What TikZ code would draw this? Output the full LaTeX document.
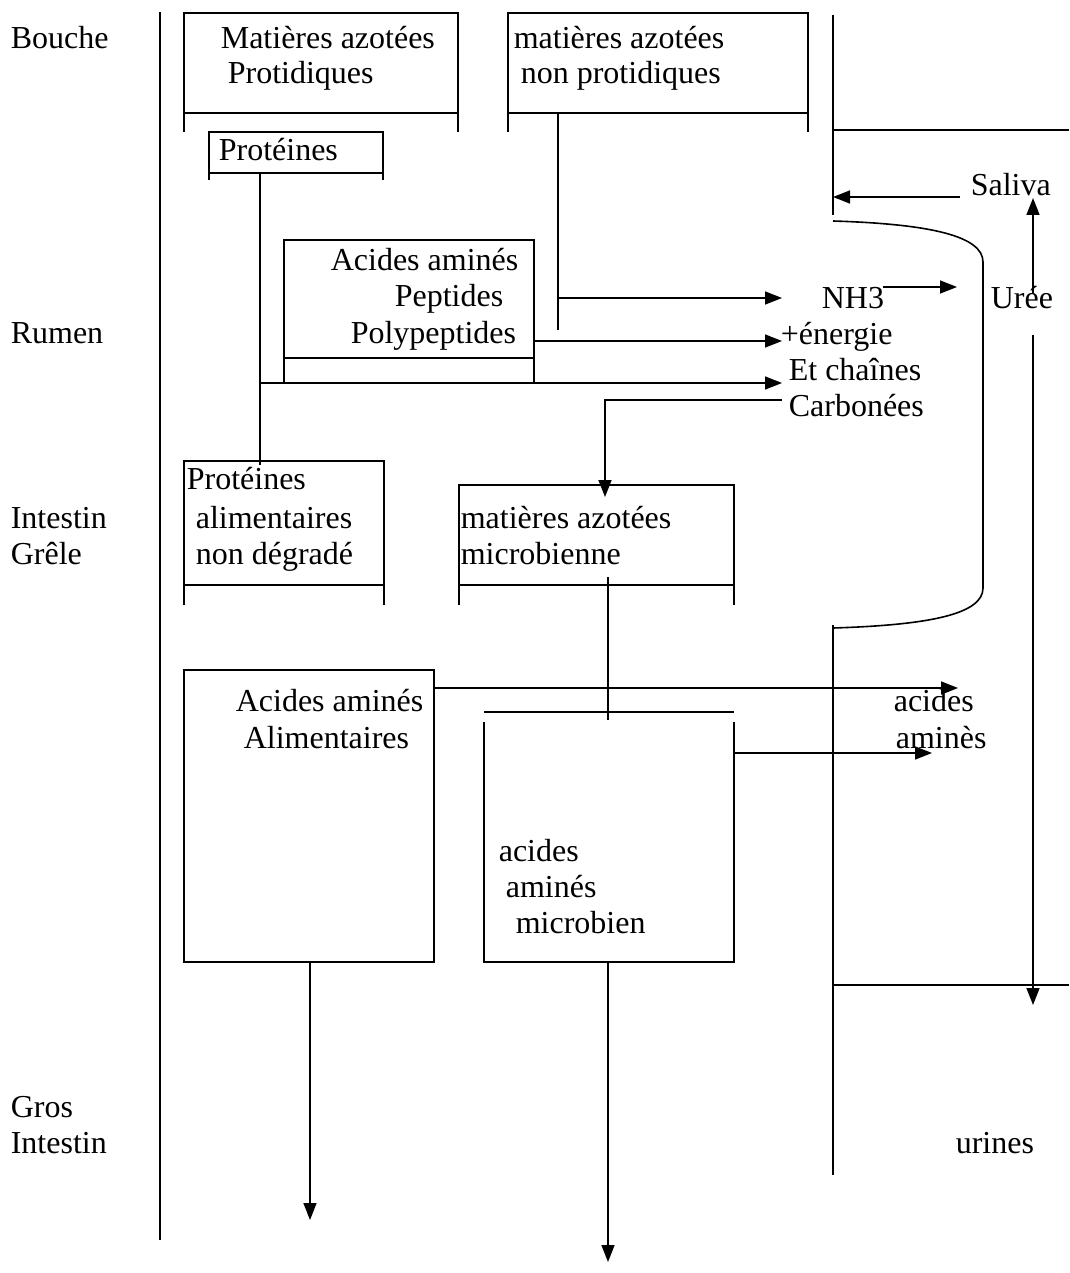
\documentclass[tikz,border=0pt]{standalone}
\usepackage{fontspec}
\setmainfont{Liberation Serif}
\usetikzlibrary{arrows.meta}
\begin{document}
\begin{tikzpicture}[x=1pt,y=-1pt,line width=1.6pt,
	lbl/.style={anchor=base west,inner sep=0pt,font=\fontsize{32}{36}\selectfont},
	fleche/.style={-{Triangle[length=17pt,width=13pt]}}]
	\useasboundingbox (0,0) rectangle (1069,1273);

	% organes
	\node[lbl] (bouche) at (10,49) {Bouche};
	\node[lbl] (rumen) at (10,343) {Rumen};
	\node[lbl] (intestin) at (10,528) {Intestin};
	\node[lbl] (grele) at (10,564) {Grêle};
	\node[lbl] (gros) at (10,1117) {Gros};
	\node[lbl] (grosint) at (10,1153) {Intestin};
	\coordinate (axeh) at (160,12);
	\coordinate (axeb) at (160,1240);
	\draw (axeh) -- (axeb);

	% bouche
	\draw (184,132) -- (184,13) -- (458,13) -- (458,132) (184,113) -- (458,113);
	\node[lbl] (protid1) at (220,49) {Matières azotées};
	\node[lbl] (protid2) at (227,84) {Protidiques};
	\draw (508,132) -- (508,13) -- (808,13) -- (808,132) (508,113) -- (808,113);
	\node[lbl] (nonprot1) at (513,49) {matières azotées};
	\node[lbl] (nonprot2) at (520,84) {non protidiques};
	\draw (209,180) -- (209,132) -- (383,132) -- (383,180) (209,173) -- (383,173);
	\node[lbl] (proteines) at (218,161) {Protéines};

	% rumen
	\draw (284,383) -- (284,240) -- (534,240) -- (534,383) (284,358) -- (534,358);
	\node[lbl] (aa1) at (330,270) {Acides aminés};
	\node[lbl] (aa2) at (394,306) {Peptides};
	\node[lbl] (aa3) at (350,343) {Polypeptides};
	\node[lbl] (nh3) at (821,308) {NH3};
	\node[lbl] (energie) at (780,344) {+énergie};
	\node[lbl] (chaines) at (788,380) {Et chaînes};
	\node[lbl] (carbonees) at (788,416) {Carbonées};
	\node[lbl] (uree) at (990,308) {Urée};
	\node[lbl] (saliva) at (970,196) {Saliva};

	\coordinate (prot) at (260,173);
	\coordinate (protb) at (260,465);
	\coordinate (prots) at (260,383);
	\coordinate (nonprot) at (558,113);
	\coordinate (nonprotb) at (558,330);
	\coordinate (nonprots) at (558,298);
	\coordinate (poly) at (534,341);
	\coordinate (nh3in) at (782,298);
	\coordinate (energiein) at (782,341);
	\coordinate (chainesin) at (782,383);
	\coordinate (carbo) at (782,400);
	\coordinate (carbocoin) at (605,400);
	\coordinate (microin) at (605,497);
	\draw (prot) -- (protb);
	\draw (nonprot) -- (nonprotb);
	\draw[fleche] (nonprots) -- (nh3in);
	\draw[fleche] (poly) -- (energiein);
	\draw[fleche] (prots) -- (chainesin);
	\draw[fleche] (carbo) -- (carbocoin) -- (microin);
	\coordinate (nh3out) at (883,287);
	\coordinate (ureein) at (957,287);
	\draw[fleche] (nh3out) -- (ureein);

	% paroi et salive
	\coordinate (paroih) at (833,15);
	\coordinate (paroim) at (833,215);
	\coordinate (salivag) at (833,197);
	\coordinate (salivad) at (960,197);
	\draw (paroih) -- (paroim);
	\draw (833,130) -- (1069,130);
	\draw[fleche] (salivad) -- (salivag);
	\draw (833,221) .. controls (930,224) and (983,236) .. (983,262) -- (983,588)
		.. controls (983,614) and (930,625) .. (833,628);
	\coordinate (ureeh) at (1033,293);
	\coordinate (ureesal) at (1033,198);
	\coordinate (ureeb) at (1033,335);
	\coordinate (urines) at (1033,1005);
	\draw[fleche] (ureeh) -- (ureesal);
	\draw[fleche] (ureeb) -- (urines);
	\draw (833,625) -- (833,1175);
	\draw (833,985) -- (1069,985);
	\node[lbl] (urinestxt) at (955,1153) {urines};

	% intestin grele
	\draw (184,605) -- (184,461) -- (384,461) -- (384,605) (184,585) -- (384,585);
	\node[lbl] (nondeg1) at (186,489) {Protéines};
	\node[lbl] (nondeg2) at (195,528) {alimentaires};
	\node[lbl] (nondeg3) at (195,564) {non dégradé};
	\draw (459,605) -- (459,485) -- (734,485) -- (734,605) (459,585) -- (734,585);
	\node[lbl] (micro1) at (460,528) {matières azotées};
	\node[lbl] (micro2) at (460,564) {microbienne};
	\coordinate (micro) at (608,577);
	\coordinate (microb) at (608,720);
	\draw (micro) -- (microb);

	\draw (184,670) rectangle (434,962);
	\node[lbl] (aal1) at (235,711) {Acides aminés};
	\node[lbl] (aal2) at (243,748) {Alimentaires};
	\draw (484,712) -- (734,712) (484,722) -- (484,962) -- (734,962) -- (734,722);
	\node[lbl] (aam1) at (498,861) {acides};
	\node[lbl] (aam2) at (505,897) {aminés};
	\node[lbl] (aam3) at (515,933) {microbien};
	\node[lbl] (absorb1) at (893,711) {acides};
	\node[lbl] (absorb2) at (895,748) {aminès};

	\coordinate (aal) at (434,688);
	\coordinate (aalout) at (958,688);
	\coordinate (aam) at (734,753);
	\coordinate (aamout) at (932,753);
	\draw[fleche] (aal) -- (aalout);
	\draw[fleche] (aam) -- (aamout);

	% gros intestin
	\coordinate (aalb) at (310,962);
	\coordinate (aalfin) at (310,1220);
	\coordinate (aamb) at (608,962);
	\coordinate (aamfin) at (608,1262);
	\draw[fleche] (aalb) -- (aalfin);
	\draw[fleche] (aamb) -- (aamfin);
\end{tikzpicture}
\end{document}
